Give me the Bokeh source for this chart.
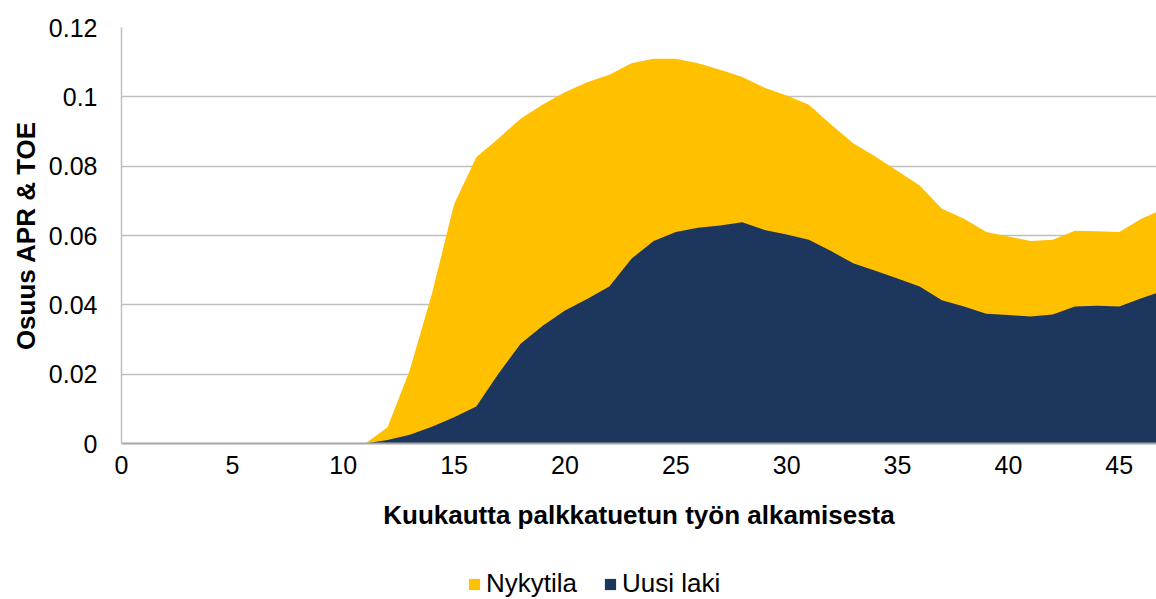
from bokeh.plotting import figure
from bokeh.layouts import column
from bokeh.models import (ColumnDataSource, Legend, LegendItem, FixedTicker,
                          NumeralTickFormatter, Range1d)
from bokeh.embed import file_html
from bokeh.resources import INLINE

months = list(range(0, 48))
nykytila = [0, 0, 0, 0, 0, 0, 0, 0, 0, 0, 0, 0,
            0.0047, 0.0211, 0.0432, 0.0690, 0.0826, 0.0880, 0.0937, 0.0978,
            0.1013, 0.1042, 0.1064, 0.1097, 0.1110, 0.1110, 0.1097, 0.1078,
            0.1057, 0.1026, 0.1004, 0.0977, 0.0920, 0.0866, 0.0828, 0.0786,
            0.0744, 0.0677, 0.0648, 0.0610, 0.0597, 0.0584, 0.0588, 0.0614,
            0.0612, 0.0610, 0.0648, 0.0677]
uusi_laki = [0, 0, 0, 0, 0, 0, 0, 0, 0, 0, 0, 0,
             0.0010, 0.0025, 0.0048, 0.0076, 0.0107, 0.0201, 0.0288, 0.0340,
             0.0384, 0.0417, 0.0453, 0.0533, 0.0584, 0.0610, 0.0622, 0.0629,
             0.0638, 0.0616, 0.0603, 0.0588, 0.0555, 0.0520, 0.0498, 0.0476,
             0.0453, 0.0413, 0.0395, 0.0374, 0.0371, 0.0366, 0.0372, 0.0395,
             0.0397, 0.0395, 0.0419, 0.0441]
x_ticks = [0, 5, 10, 15, 20, 25, 30, 35, 40, 45]
y_ticks = [0, 0.02, 0.04, 0.06, 0.08, 0.10, 0.12]
series_names = ["Nykytila", "Uusi laki"]

FONT = "Liberation Sans"
YELLOW = "#FFC000"
NAVY = "#1D365D"

src = ColumnDataSource(dict(x=months, a=nykytila, b=uusi_laki))

p = figure(width=1156, height=560, output_backend="svg", toolbar_location=None,
           x_range=Range1d(0, 46.68), y_range=Range1d(0, 0.12),
           min_border_left=121, min_border_right=0, min_border_top=27,
           min_border_bottom=117)
p.outline_line_color = None
p.background_fill_color = "white"

p.varea(x="x", y1=0, y2="a", source=src, fill_color=YELLOW)
p.varea(x="x", y1=0, y2="b", source=src, fill_color=NAVY)

# grid
p.xgrid.grid_line_color = None
p.ygrid.ticker = FixedTicker(ticks=y_ticks)
p.ygrid.grid_line_color = "#BFBFBF"
p.ygrid.grid_line_width = 1.5

# axes
p.yaxis.ticker = FixedTicker(ticks=y_ticks)
p.yaxis.formatter = NumeralTickFormatter(format="0.[00]")
p.xaxis.ticker = FixedTicker(ticks=x_ticks)
for ax in (p.xaxis[0], p.yaxis[0]):
    ax.axis_line_color = "#BFBFBF"
    ax.axis_line_width = 1.5
    ax.major_tick_line_color = None
    ax.minor_tick_line_color = None
    ax.major_tick_out = 0
    ax.major_tick_in = 0
    ax.minor_tick_out = 0
    ax.major_label_text_font = FONT
    ax.major_label_text_font_size = "25px"
    ax.major_label_text_color = "black"
    ax.axis_label_text_font = FONT
    ax.axis_label_text_font_size = "26px"
    ax.axis_label_text_font_style = "bold"
    ax.axis_label_text_color = "black"

p.xaxis.axis_line_color = "#A6A6A6"
p.xaxis.axis_line_width = 2
p.yaxis.major_label_standoff = 24
p.xaxis.major_label_standoff = 12
p.yaxis.axis_label = "Osuus APR & TOE"
p.xaxis.axis_label = "Kuukautta palkkatuetun työn alkamisesta"
p.yaxis.axis_label_standoff = 5
p.xaxis.axis_label_standoff = 23

# legend strip below the chart (swatch glyphs sit outside its visible range)
lg = figure(width=1156, height=39, output_backend="svg", toolbar_location=None,
            x_range=Range1d(0, 1), y_range=Range1d(0, 1),
            x_axis_type=None, y_axis_type=None,
            min_border_left=0, min_border_right=0, min_border_top=0,
            min_border_bottom=0)
lg.outline_line_color = None
lg.xgrid.grid_line_color = None
lg.ygrid.grid_line_color = None
d1 = lg.varea(x=[5, 6], y1=[5, 5], y2=[6, 6], fill_color=YELLOW)
d2 = lg.varea(x=[5, 6], y1=[5, 5], y2=[6, 6], fill_color=NAVY)

legend = Legend(items=[LegendItem(label=series_names[0], renderers=[d1]),
                       LegendItem(label=series_names[1], renderers=[d2])],
                orientation="horizontal", location=(346, 0))
legend.label_text_font = FONT
legend.label_text_font_size = "26px"
legend.label_text_color = "black"
legend.glyph_width = 14
legend.glyph_height = 14
legend.label_standoff = 5
legend.spacing = 26
legend.padding = 0
legend.margin = 0
legend.border_line_color = None
legend.background_fill_alpha = 0
lg.add_layout(legend, "center")

layout = column(p, lg, spacing=0)
open("out.html", "w").write(file_html(layout, INLINE))
